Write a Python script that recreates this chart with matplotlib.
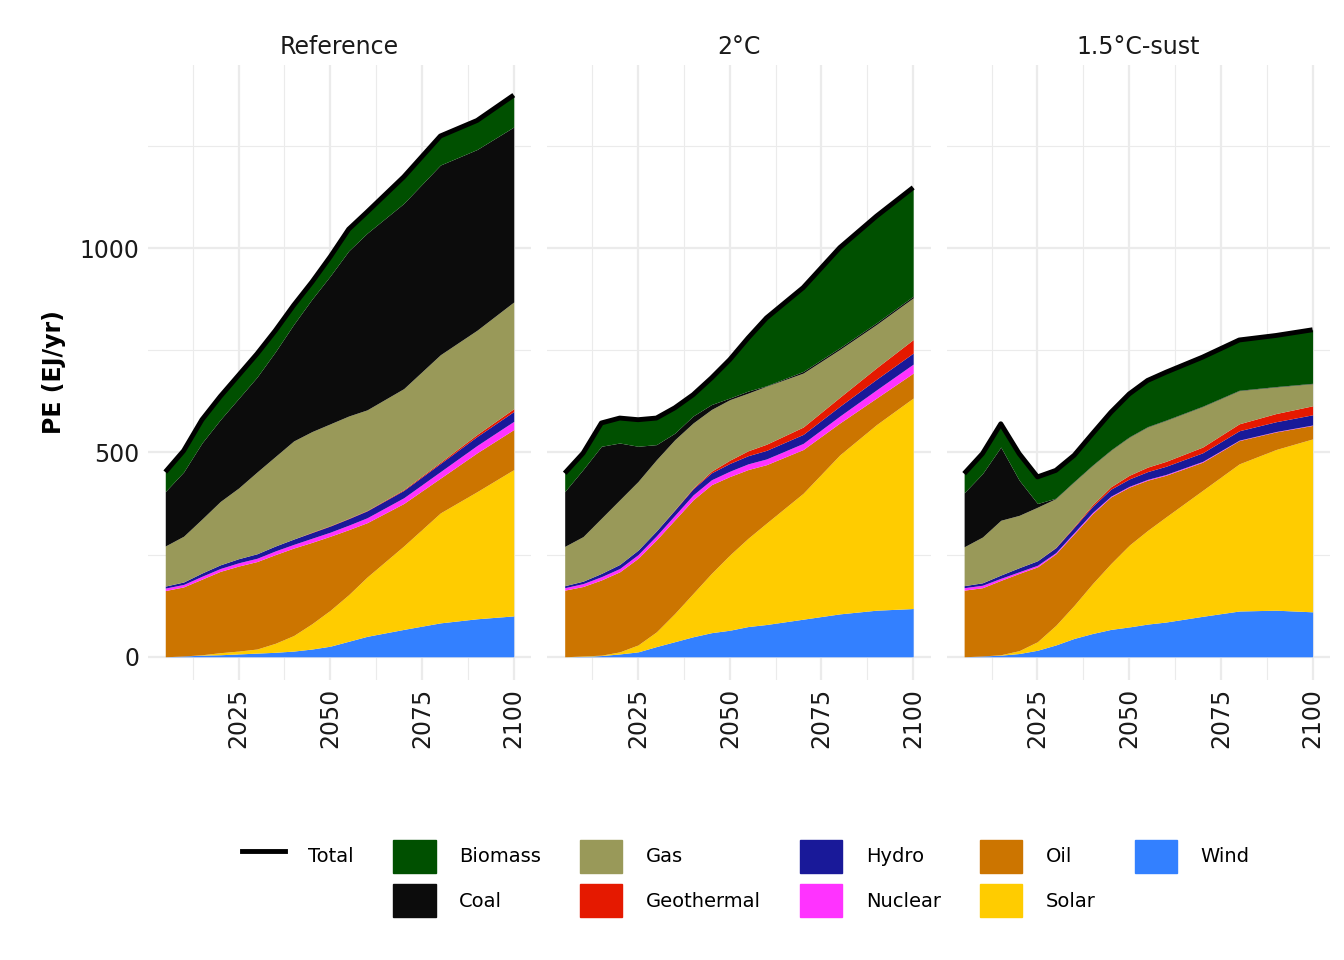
import numpy as np
import matplotlib
matplotlib.use('Agg')
import matplotlib.pyplot as plt
from matplotlib.patches import Patch
from matplotlib.lines import Line2D

years = [2005, 2010, 2015, 2020, 2025, 2030, 2035, 2040, 2045, 2050, 2055, 2060, 2070, 2080, 2090, 2100]
scenarios = ['Reference', '2°C', '1.5°C-sust']

# upper edge of each stacked layer (EJ/yr)
wind_top = {
    'Reference': [0, 2, 4, 5, 7, 9, 11, 14, 19, 26, 38, 50, 67, 83, 93, 100],
    '2°C': [0, 1, 3, 7, 12, 25, 37, 49, 59, 65, 74, 79, 92, 105, 114, 118],
    '1.5°C-sust': [0, 2, 4, 8, 16, 29, 45, 57, 67, 73, 80, 85, 99, 112, 114, 110],
}
solar_top = {
    'Reference': [0, 2, 5, 10, 14, 19, 33, 52, 81, 114, 152, 195, 271, 352, 404, 458],
    '2°C': [0, 2, 4, 12, 29, 61, 106, 155, 204, 249, 290, 327, 400, 494, 568, 633],
    '1.5°C-sust': [0, 2, 5, 15, 37, 77, 126, 179, 228, 273, 309, 342, 407, 472, 507, 533],
}
oil_top = {
    'Reference': [162, 171, 190, 209, 222, 233, 250, 266, 280, 295, 311, 328, 375, 437, 499, 556],
    '2°C': [163, 172, 188, 208, 241, 286, 335, 384, 421, 441, 458, 470, 507, 572, 633, 694],
    '1.5°C-sust': [163, 169, 187, 204, 220, 252, 301, 350, 391, 415, 432, 444, 476, 529, 550, 566],
}
nuclear = {
    'Reference': [6, 6, 7, 7, 8, 8, 9, 9, 10, 10, 11, 12, 14, 16, 18, 20],
    '2°C': [6, 7, 8, 8, 9, 10, 11, 12, 12, 13, 14, 14, 15, 17, 20, 22],
    '1.5°C-sust': [6, 6, 5, 4, 4, 3, 3, 3, 2, 2, 2, 2, 2, 1, 1, 1],
}
hydro = {
    'Reference': [5, 6, 8, 9, 10, 11, 12, 13, 14, 15, 16, 17, 18, 20, 22, 24],
    '2°C': [5, 6, 8, 10, 11, 12, 13, 15, 17, 19, 20, 21, 22, 24, 26, 27],
    '1.5°C-sust': [5, 6, 8, 10, 11, 12, 13, 15, 17, 18, 19, 20, 21, 23, 24, 25],
}
geothermal = {
    'Reference': [0, 0, 0, 0, 0, 0, 0, 0, 1, 1, 1, 1, 2, 3, 5, 7],
    '2°C': [0, 0, 0, 0, 0, 0, 1, 2, 4, 8, 12, 15, 18, 22, 28, 33],
    '1.5°C-sust': [0, 0, 0, 0, 0, 1, 2, 4, 6, 9, 11, 12, 14, 17, 20, 22],
}
gas_top = {
    'Reference': [271, 295, 337, 380, 413, 452, 490, 528, 551, 570, 589, 604, 656, 739, 799, 868],
    '2°C': [270, 294, 339, 384, 429, 482, 531, 572, 605, 629, 645, 662, 694, 752, 813, 878],
    '1.5°C-sust': [269, 293, 334, 346, 366, 387, 428, 468, 505, 537, 562, 578, 612, 651, 660, 668],
}
coal_top = {
    'Reference': [404, 452, 523, 580, 632, 684, 746, 813, 875, 932, 993, 1036, 1109, 1203, 1241, 1296],
    '2°C': [404, 458, 515, 523, 515, 519, 547, 589, 617, 633, 650, 663, 698, 756, 817, 882],
    '1.5°C-sust': [401, 448, 513, 432, 375, 388, 429, 469, 506, 538, 563, 579, 613, 652, 661, 669],
}
total = {
    'Reference': [452, 504, 580, 637, 689, 741, 798, 860, 917, 979, 1046, 1088, 1174, 1274, 1312, 1374],
    '2°C': [449, 498, 572, 584, 580, 584, 609, 641, 682, 727, 780, 829, 903, 1001, 1078, 1148],
    '1.5°C-sust': [448, 497, 570, 497, 440, 456, 493, 546, 598, 643, 676, 696, 733, 775, 786, 800],
}

colors = {
    'Biomass': '#005000', 'Coal': '#0c0c0c', 'Gas': '#999959', 'Geothermal': '#e51900',
    'Hydro': '#191999', 'Nuclear': '#ff33ff', 'Oil': '#cc7500', 'Solar': '#ffcc00', 'Wind': '#3380ff',
}

fig, axes = plt.subplots(1, 3, figsize=(13.44, 9.6), dpi=100, sharey=True)
fig.subplots_adjust(left=0.110, right=0.9896, bottom=0.292, top=0.932, wspace=0.042)

for ax, sc in zip(axes, scenarios):
    x = np.array(years)
    w = np.array(wind_top[sc], float)
    s = np.array(solar_top[sc], float)
    o = np.array(oil_top[sc], float)
    n = o + np.array(nuclear[sc])
    h = n + np.array(hydro[sc])
    g = h + np.array(geothermal[sc])
    ga = np.array(gas_top[sc], float)
    c = np.array(coal_top[sc], float)
    t = np.array(total[sc], float)
    layers = [('Wind', 0, w), ('Solar', w, s), ('Oil', s, o), ('Nuclear', o, n),
              ('Hydro', n, h), ('Geothermal', h, g), ('Gas', g, ga),
              ('Coal', ga, c), ('Biomass', c, t)]
    for name, lo, hi in layers:
        ax.fill_between(x, lo, hi, color=colors[name], lw=0, zorder=2)
    ax.plot(x, t, color='black', lw=3.5, zorder=3, solid_capstyle='butt')

    ax.set_title(sc, fontsize=17, color='#1a1a1a', pad=8)
    ax.set_xlim(2000.25, 2104.75)
    ax.set_ylim(-56, 1447)
    ax.set_xticks([2025, 2050, 2075, 2100])
    ax.set_xticks([2012.5, 2037.5, 2062.5, 2087.5], minor=True)
    ax.set_yticks([0, 500, 1000])
    ax.set_yticks([250, 750, 1250], minor=True)
    ax.tick_params(axis='x', labelrotation=90)
    ax.tick_params(which='both', length=0, labelsize=17, labelcolor='#1a1a1a', pad=6)
    ax.grid(True, which='major', color='#ebebeb', lw=1.6, zorder=0)
    ax.grid(True, which='minor', color='#ebebeb', lw=0.8, zorder=0)
    ax.set_axisbelow(True)
    for sp in ax.spines.values():
        sp.set_visible(False)

axes[0].set_ylabel('PE (EJ/yr)', fontsize=17, fontweight='bold', labelpad=10)

handles = [Line2D([], [], color='black', lw=3.5), Patch(visible=False)]
labels = ['Total', '']
for name in ['Biomass', 'Coal', 'Gas', 'Geothermal', 'Hydro', 'Nuclear', 'Oil', 'Solar', 'Wind']:
    handles.append(Patch(color=colors[name]))
    labels.append(name)
fig.legend(handles, labels, ncol=6, loc='center', bbox_to_anchor=(0.555, 0.085),
           frameon=False, fontsize=14, handlelength=2.2, handleheight=2.2,
           columnspacing=2.0, labelspacing=0.6, handletextpad=1.2)

fig.savefig('out.png', dpi=100)
